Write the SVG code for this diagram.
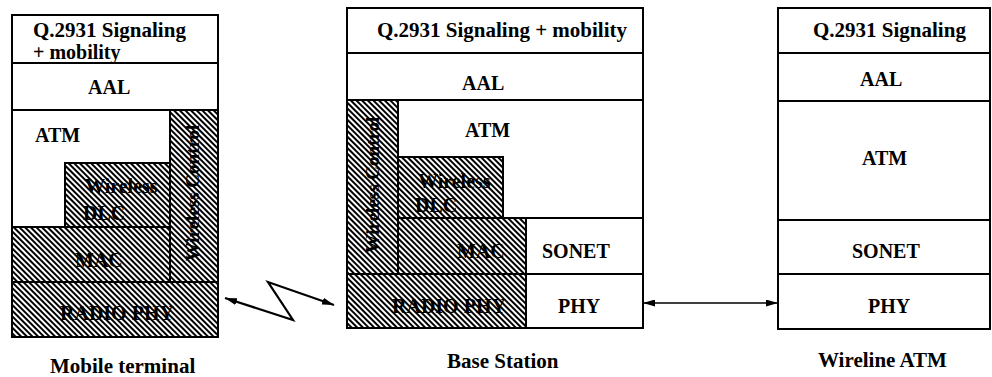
<svg xmlns="http://www.w3.org/2000/svg" width="992" height="377" viewBox="0 0 992 377">
<style>
.box{fill:#fff;stroke:#000;stroke-width:2}
.h{fill:url(#hatch);stroke:#000;stroke-width:2}
text{font-family:"Liberation Serif","Times New Roman",serif;font-weight:bold;font-size:20px;fill:#000}
.big{font-size:21px}
.wc{font-size:19px}
.conn{fill:none;stroke:#000}
</style>
<defs>
<pattern id="hatch" patternUnits="userSpaceOnUse" width="4" height="4" patternTransform="rotate(-45)">
<rect width="4" height="4" fill="#fff"/>
<line x1="1" y1="-1" x2="1" y2="5" stroke="#000" stroke-width="2"/>
</pattern>
<marker id="ah" viewBox="0 0 12 7" refX="12" refY="3.5" markerWidth="12" markerHeight="7" markerUnits="userSpaceOnUse" orient="auto-start-reverse">
<path d="M0,0 L12,3.5 L0,7 Z" fill="#000"/>
</marker>
</defs>

<g id="mobile-terminal">
<rect class="box" x="12" y="15" width="206" height="322"/>
<rect class="box" x="12" y="15" width="206" height="48"/>
<rect class="box" x="12" y="63" width="206" height="47"/>
<rect class="h" x="170" y="110" width="48" height="172"/>
<rect class="h" x="65" y="163" width="105" height="64"/>
<rect class="h" x="12" y="227" width="158" height="55"/>
<rect class="h" x="12" y="282" width="206" height="55"/>
<text class="big" x="33" y="37">Q.2931 Signaling</text>
<text x="33" y="59">+ mobility</text>
<text x="88" y="94">AAL</text>
<text x="35" y="142">ATM</text>
<text x="85" y="193">Wireless</text>
<text x="83" y="220">DLC</text>
<text x="75" y="267">MAC</text>
<text x="60" y="320">RADIO PHY</text>
<text class="wc" text-anchor="middle" transform="translate(199,193) rotate(-90)">Wireless Control</text>
<text class="big" x="50" y="373">Mobile terminal</text>
</g>

<g id="base-station">
<rect class="box" x="347" y="8" width="296" height="320"/>
<rect class="box" x="347" y="8" width="296" height="45"/>
<rect class="box" x="347" y="53" width="296" height="47"/>
<rect class="h" x="347" y="100" width="51" height="174"/>
<rect class="h" x="398" y="157" width="105" height="61"/>
<rect class="h" x="398" y="218" width="128" height="56"/>
<rect class="box" x="526" y="218" width="117" height="56"/>
<rect class="h" x="347" y="274" width="179" height="54"/>
<rect class="box" x="526" y="274" width="117" height="54"/>
<text class="big" x="377" y="37">Q.2931 Signaling + mobility</text>
<text x="462" y="90">AAL</text>
<text x="465" y="137">ATM</text>
<text class="wc" text-anchor="middle" transform="translate(379,185) rotate(-90)">Wireless Control</text>
<text x="418" y="188">Wireless</text>
<text x="415" y="212">DLC</text>
<text x="457" y="258">MAC</text>
<text x="542" y="258">SONET</text>
<text x="392" y="313">RADIO PHY</text>
<text x="558" y="313">PHY</text>
<text class="big" x="447" y="368">Base Station</text>
</g>

<g id="wireline-atm">
<rect class="box" x="778" y="8" width="212" height="321"/>
<rect class="box" x="778" y="8" width="212" height="45"/>
<rect class="box" x="778" y="53" width="212" height="48"/>
<rect class="box" x="778" y="101" width="212" height="119"/>
<rect class="box" x="778" y="220" width="212" height="54"/>
<rect class="box" x="778" y="274" width="212" height="55"/>
<text class="big" x="813" y="37">Q.2931 Signaling</text>
<text x="860" y="86">AAL</text>
<text x="862" y="165">ATM</text>
<text x="852" y="258">SONET</text>
<text x="868" y="313">PHY</text>
<text class="big" x="818" y="367">Wireline ATM</text>
</g>

<g id="connectors">
<polyline class="conn" stroke-width="2.2" points="225,298 293,320 268,282 334,305" marker-start="url(#ah)" marker-end="url(#ah)"/>
<line class="conn" stroke-width="1.6" x1="643" y1="303" x2="778" y2="303" marker-start="url(#ah)" marker-end="url(#ah)"/>
</g>
</svg>
